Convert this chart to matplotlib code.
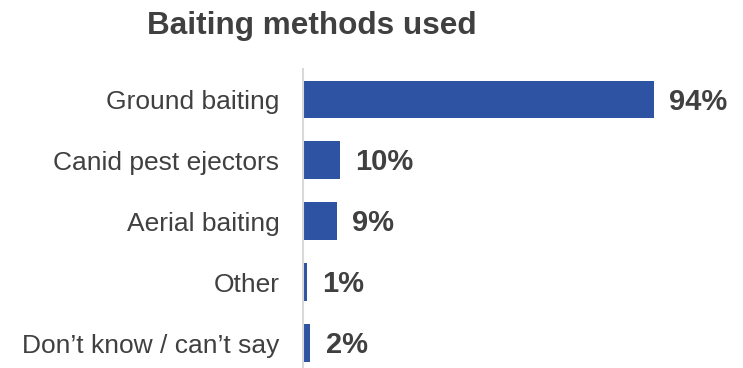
import matplotlib
matplotlib.use("Agg")
import matplotlib.pyplot as plt

plt.rcParams['font.family'] = ['Liberation Sans', 'DejaVu Sans']

categories = ["Ground baiting", "Canid pest ejectors", "Aerial baiting", "Other",
              "Don\u2019t know / can\u2019t say"]
values = [94, 10, 9, 1, 2]

bar_color = '#2E53A3'
text_color = '#404040'

fig = plt.figure(figsize=(7.43, 3.68), dpi=100)
ax = fig.add_axes([303 / 743, 0, 440 / 743, 1 - 69 / 368])

pos = list(range(len(categories)))
ax.barh(pos, values, height=0.62, color=bar_color)

# value labels to the right of each bar
for p, v in zip(pos, values):
    ax.annotate(f"{v}%", (v, p), xytext=(11, -1.5), textcoords='offset points',
                ha='left', va='center', fontsize=21, fontweight='bold',
                color=text_color, annotation_clip=False)

ax.set_xlim(0, 440 / 3.734)
ax.set_ylim(4.41, -0.5)
ax.set_yticks(pos)
ax.set_yticklabels(categories, fontsize=19, color=text_color)
ax.tick_params(axis='y', length=0, pad=17)
ax.set_xticks([])

for s in ['top', 'right', 'bottom']:
    ax.spines[s].set_visible(False)
ax.spines['left'].set_color('#D9D9D9')
ax.spines['left'].set_linewidth(1.5)

fig.text(312 / 743, 1 - 26 / 368, "Baiting methods used", ha='center', va='center',
         fontsize=22.7, fontweight='bold', color=text_color)

fig.savefig('out.png', dpi=100)
